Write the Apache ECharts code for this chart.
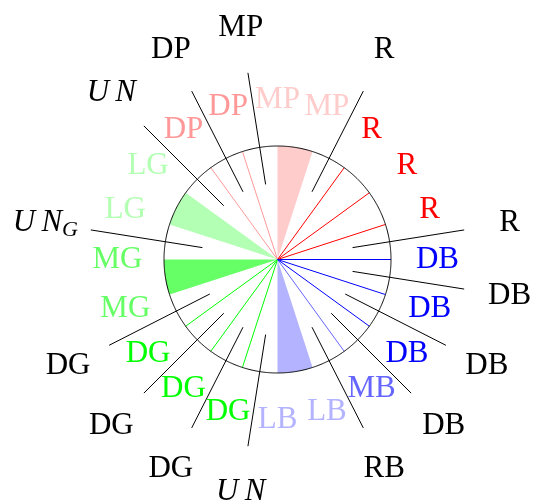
<!DOCTYPE html>
<html>
<head>
<meta charset="utf-8">
<script src="https://cdn.jsdelivr.net/npm/echarts@6/dist/echarts.min.js"></script>
<style>
  html, body { margin: 0; padding: 0; background: #ffffff; }
  #chart { width: 534px; height: 504px; }
</style>
</head>
<body>
<div id="chart"></div>
<script>
// Twenty positions, 18° apart, counter-clockwise from east
const positionAngles = [0, 18, 36, 54, 72, 90, 108, 126, 144, 162, 180, 198, 216, 234, 252, 270, 288, 306, 324, 342];
const positionLabels = ['DB', 'R', 'R', 'R', 'MP', 'MP', 'DP', 'DP', 'LG', 'LG', 'MG', 'MG', 'DG', 'DG', 'DG', 'LB', 'LB', 'MB', 'DB', 'DB'];

// Single rays from the centre to the rim
const rayAngles = [0, 18, 36, 54, 108, 126, 216, 234, 252, 306, 324, 342];
const rayGroups = ['DB', 'R', 'R', 'R', 'DP', 'DP', 'DG', 'DG', 'DG', 'MB', 'DB', 'DB'];

// Filled wedges between two neighbouring positions
const wedgeStart = [72, 144, 180, 270];
const wedgeEnd = [90, 162, 198, 288];
const wedgeGroups = ['MP', 'LG', 'MG', 'LB'];

// Outer separators, half-way between positions, with their labels
const outerAngles = [9, 63, 99, 117, 135, 171, 207, 225, 243, 261, 297, 315, 333, 351];
const outerLabels = ['R', 'R', 'MP', 'DP', 'UN', 'UN_G', 'DG', 'DG', 'DG', 'UN', 'RB', 'DB', 'DB', 'DB'];

const groupColors = {
  R: '#ff0000', MP: '#ffcccc', DP: '#ff9999',
  LG: '#b3ffb3', MG: '#66ff66', DG: '#00ff00',
  LB: '#b3b3ff', MB: '#6666ff', DB: '#0000ff'
};

// Radii in radius-axis units
const CIRCLE_R = 113.5;
const INNER_LABEL_R = 160;
const OUTER_LINE_FROM = 76;
const OUTER_LINE_TO = 189;
const OUTER_LABEL_R = 235;

const FONT = '"Liberation Serif", "Times New Roman", serif';
const FONT_SIZE = 31;

function arc(api, r, a0, a1) {
  const pts = [];
  for (let a = a0; a <= a1 + 1e-9; a += 0.5) pts.push(api.coord([r, a]));
  return pts;
}

function outerText(label) {
  const base = { fontFamily: FONT, fontSize: FONT_SIZE, fontStyle: 'italic', fill: '#000000' };
  if (label === 'UN') {
    return { text: '{m|U\u2009N}', rich: { m: base } };
  }
  if (label === 'UN_G') {
    return {
      text: '{m|U\u2009N}{s|G}',
      rich: {
        m: base,
        s: { fontFamily: FONT, fontSize: 22, fontStyle: 'italic', fill: '#000000', padding: [14, 0, 0, 0] }
      }
    };
  }
  return { text: label };
}

const chart = echarts.init(document.getElementById('chart'), null, { renderer: 'canvas' });

const hiddenAxis = {
  axisLine: { show: false }, axisTick: { show: false },
  axisLabel: { show: false }, splitLine: { show: false }, splitArea: { show: false }
};

chart.setOption({
  animation: false,
  polar: { center: [277.5, 259.5], radius: 240 },
  angleAxis: Object.assign({ type: 'value', min: 0, max: 360, startAngle: 0, clockwise: false }, hiddenAxis),
  radiusAxis: Object.assign({ type: 'value', min: 0, max: 240 }, hiddenAxis),
  series: [
    {
      // filled wedges
      type: 'custom', coordinateSystem: 'polar', silent: true,
      data: wedgeStart.map((s, i) => [CIRCLE_R, s, wedgeEnd[i]]),
      renderItem(params, api) {
        const i = params.dataIndex;
        const pts = [api.coord([0, api.value(1)])].concat(arc(api, api.value(0), api.value(1), api.value(2)));
        return { type: 'polygon', shape: { points: pts }, style: { fill: groupColors[wedgeGroups[i]], stroke: null } };
      }
    },
    {
      // coloured rays inside the circle
      type: 'custom', coordinateSystem: 'polar', silent: true,
      data: rayAngles.map(a => [CIRCLE_R, a]),
      renderItem(params, api) {
        const a = api.value(1);
        const p0 = api.coord([0, a]);
        const p1 = api.coord([api.value(0), a]);
        return {
          type: 'line',
          shape: { x1: p0[0], y1: p0[1], x2: p1[0], y2: p1[1] },
          style: { stroke: groupColors[rayGroups[params.dataIndex]], lineWidth: 1 }
        };
      }
    },
    {
      // outer circle
      type: 'custom', coordinateSystem: 'polar', silent: true,
      data: [[CIRCLE_R, 0]],
      renderItem(params, api) {
        return {
          type: 'polygon',
          shape: { points: arc(api, api.value(0), 0, 359.5) },
          style: { fill: null, stroke: '#000000', lineWidth: 1 }
        };
      }
    },
    {
      // black separators crossing the rim
      type: 'custom', coordinateSystem: 'polar', silent: true,
      data: outerAngles.map(a => [OUTER_LINE_TO, a]),
      renderItem(params, api) {
        const a = api.value(1);
        const p0 = api.coord([OUTER_LINE_FROM, a]);
        const p1 = api.coord([api.value(0), a]);
        return {
          type: 'line',
          shape: { x1: p0[0], y1: p0[1], x2: p1[0], y2: p1[1] },
          style: { stroke: '#000000', lineWidth: 1 }
        };
      }
    },
    {
      // coloured position labels
      type: 'custom', coordinateSystem: 'polar', silent: true,
      data: positionAngles.map(a => [INNER_LABEL_R, a]),
      renderItem(params, api) {
        const p = api.coord([api.value(0), api.value(1)]);
        const label = positionLabels[params.dataIndex];
        return {
          type: 'text', x: p[0], y: p[1],
          style: {
            text: label, fill: groupColors[label],
            font: FONT_SIZE + 'px ' + FONT, align: 'center', verticalAlign: 'middle'
          }
        };
      }
    },
    {
      // black outer labels
      type: 'custom', coordinateSystem: 'polar', silent: true,
      data: outerAngles.map(a => [OUTER_LABEL_R, a]),
      renderItem(params, api) {
        const p = api.coord([api.value(0), api.value(1)]);
        const t = outerText(outerLabels[params.dataIndex]);
        return {
          type: 'text', x: p[0], y: p[1],
          style: Object.assign({
            fill: '#000000', font: FONT_SIZE + 'px ' + FONT,
            align: 'center', verticalAlign: 'middle'
          }, t)
        };
      }
    }
  ]
});
</script>
</body>
</html>
